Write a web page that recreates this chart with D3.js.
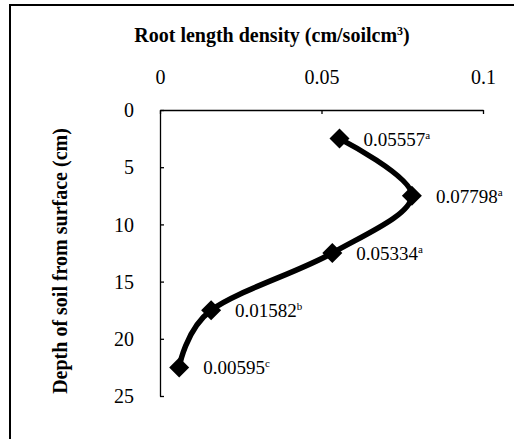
<!DOCTYPE html>
<html>
<head>
<meta charset="utf-8">
<script src="https://cdn.jsdelivr.net/npm/d3@7"></script>
<style>
  body { margin: 0; background: #fff; }
  text { font-family: "Liberation Serif", "Times New Roman", serif; fill: #000; }
</style>
</head>
<body>
<div id="chart"></div>
<script>
// values
var depths = [2.5, 7.5, 12.5, 17.5, 22.5];
var densities = [0.05557, 0.07798, 0.05334, 0.01582, 0.00595];
var letters = ["a", "a", "a", "b", "c"];
var xTicks = [0, 0.05, 0.1];
var yTicks = [0, 5, 10, 15, 20, 25];

var W = 514, H = 439;
var svg = d3.select("#chart").append("svg").attr("width", W).attr("height", H);

// outer frame (right/bottom edges fall outside the picture)
svg.append("rect")
  .attr("x", 10).attr("y", 5).attr("width", 700).attr("height", 700)
  .attr("fill", "none").attr("stroke", "#000").attr("stroke-width", 2);

var x = d3.scaleLinear().domain([0, 0.1]).range([160, 483]);
var y = d3.scaleLinear().domain([0, 25]).range([110, 396]);

var g = svg.append("g");

// axes (ticks point inward)
var xAxis = g.append("g").attr("transform", "translate(0," + y(0) + ")")
  .call(d3.axisTop(x).tickValues(xTicks).tickSizeInner(-4).tickSizeOuter(0)
    .tickFormat(function(d) { return d === 0 ? "0" : String(d); }));
xAxis.selectAll("text").attr("y", 84 - y(0)).attr("dy", null)
  .style("font-size", "20px").attr("text-anchor", "middle");

var yAxis = g.append("g").attr("transform", "translate(" + x(0) + ",0)")
  .call(d3.axisLeft(y).tickValues(yTicks).tickSizeInner(-4).tickSizeOuter(0));
yAxis.selectAll("text").attr("x", -26).attr("dy", "0.33em").style("font-size", "20px");

g.selectAll(".domain").attr("stroke", "#000").attr("stroke-width", 1.3);
g.selectAll(".tick line").attr("stroke", "#000").attr("stroke-width", 1.3);
g.selectAll(".tick text").style("font-family", "'Liberation Serif', serif").attr("fill", "#000");

// titles
svg.append("text")
  .attr("x", 272).attr("y", 42).attr("text-anchor", "middle")
  .style("font-size", "20px").style("font-weight", "bold")
  .text("Root length density (cm/soilcm")
  .append("tspan").attr("dy", -7).style("font-size", "12px").text("3")
  .select(function() { return this.parentNode; })
  .append("tspan").attr("dy", 7).text(")");

svg.append("text")
  .attr("transform", "translate(67,261) rotate(-90)")
  .attr("text-anchor", "middle")
  .style("font-size", "20px").style("font-weight", "bold")
  .text("Depth of soil from surface (cm)");

// smoothed line
var pts = depths.map(function(d, i) { return { depth: d, val: densities[i], sup: letters[i] }; });
var line = d3.line()
  .x(function(d) { return x(d.val); })
  .y(function(d) { return y(d.depth); })
  .curve(d3.curveCardinal.tension(0));

svg.append("path").datum(pts)
  .attr("d", line)
  .attr("fill", "none").attr("stroke", "#000").attr("stroke-width", 5.5)
  .attr("stroke-linejoin", "round");

svg.selectAll(".mk").data(pts).enter().append("path")
  .attr("class", "mk")
  .attr("transform", function(d) { return "translate(" + x(d.val) + "," + y(d.depth) + ")"; })
  .attr("d", "M0,-10L10,0L0,10L-10,0Z")
  .attr("fill", "#000");

// data labels
var lbl = svg.selectAll(".lbl").data(pts).enter().append("text")
  .attr("class", "lbl")
  .attr("x", function(d) { return x(d.val) + 24; })
  .attr("y", function(d) { return y(d.depth) + 7; })
  .style("font-size", "19px")
  .text(function(d) { return String(d.val); });
lbl.append("tspan").attr("dy", -7).style("font-size", "11px")
  .text(function(d) { return d.sup; });
</script>
</body>
</html>
